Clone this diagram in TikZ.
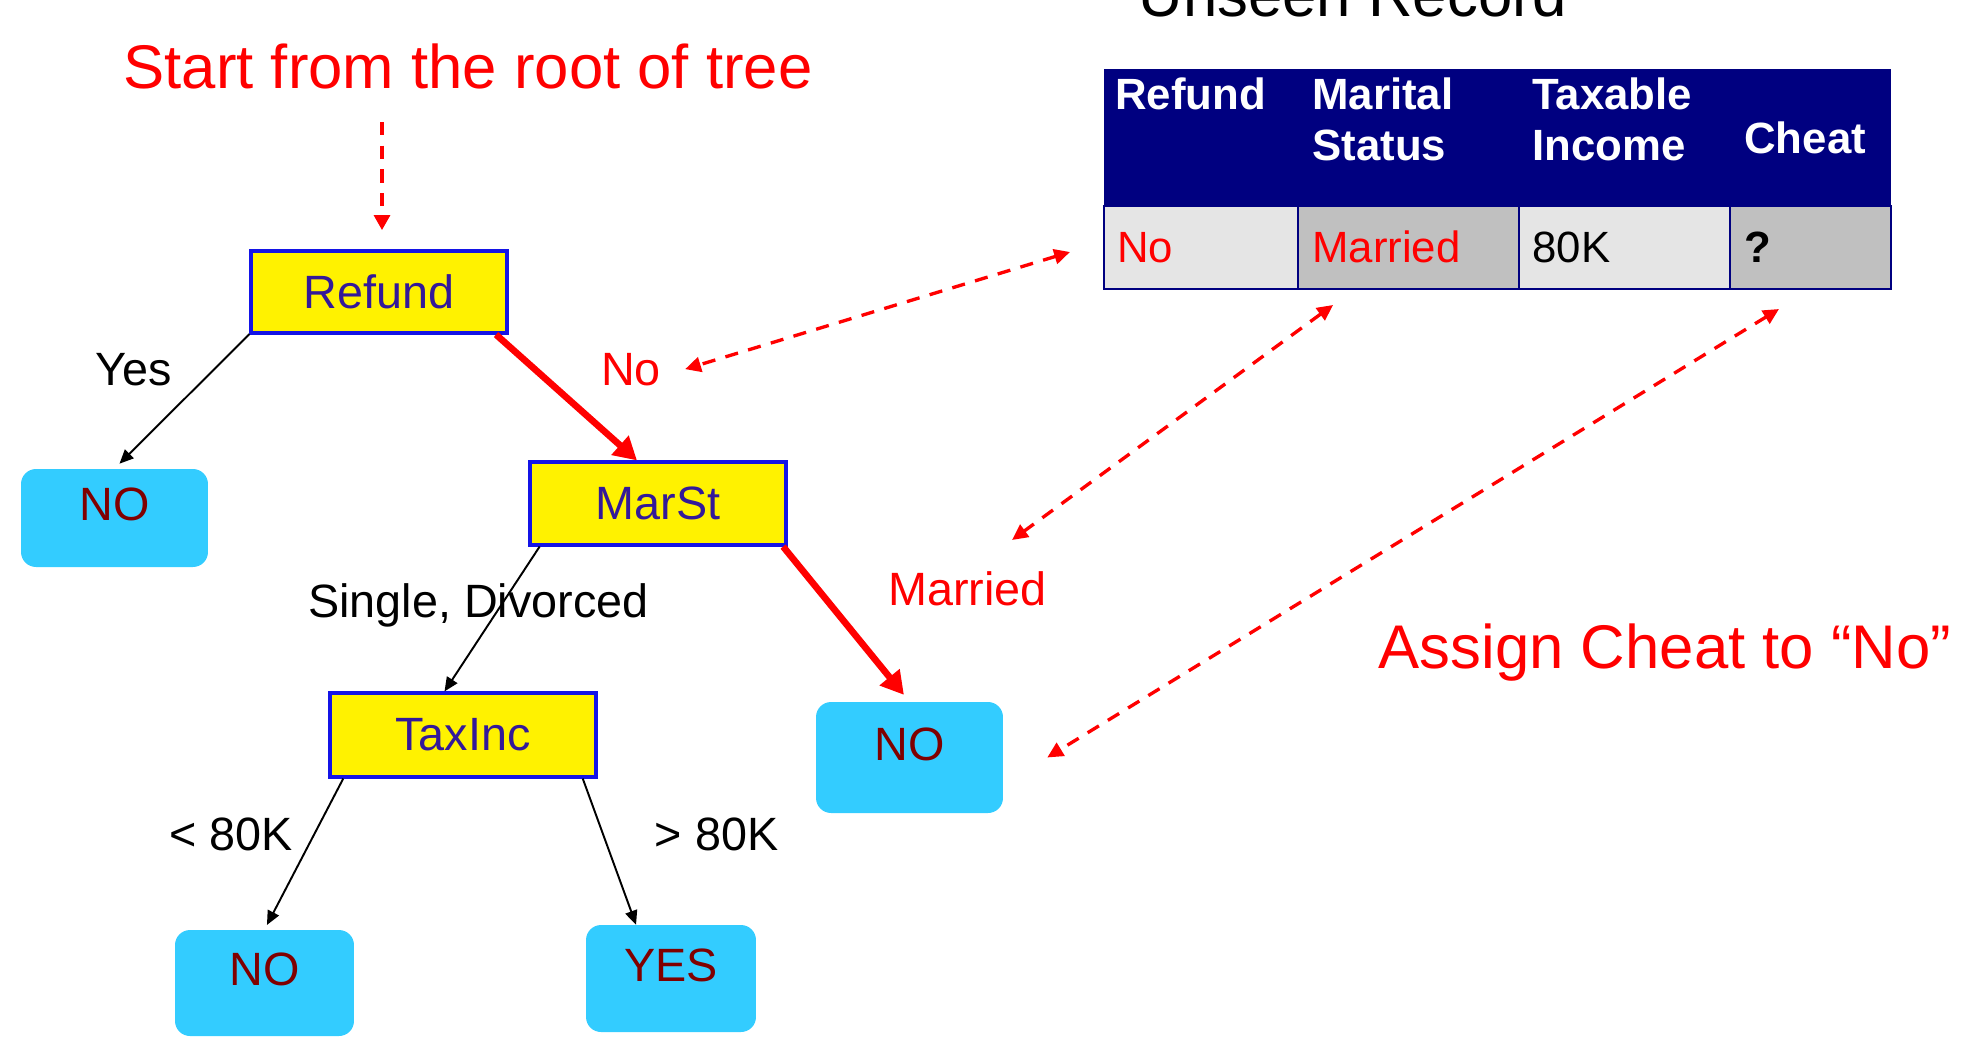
\documentclass[tikz,border=0pt]{standalone}
\usepackage{fontspec}
\setmainfont{Liberation Sans}
\usetikzlibrary{arrows.meta,calc}

\definecolor{navy}{RGB}{0,0,128}
\definecolor{boxblue}{RGB}{20,20,230}
\definecolor{testtxt}{RGB}{51,25,153}
\definecolor{leafcyan}{RGB}{51,204,255}
\definecolor{leaftxt}{RGB}{128,0,0}
\definecolor{lightcell}{RGB}{229,229,229}
\definecolor{darkcell}{RGB}{192,192,192}

\newcommand\bigfont{\fontsize{35.1}{42}\selectfont}
\newcommand\nodefont{\fontsize{26.6}{32}\selectfont}
\newcommand\tabfont{\fontsize{24.9}{29}\selectfont}

\tikzset{
  decbox/.style={draw=boxblue, line width=1.8pt, fill=yellow, text=testtxt,
    font=\nodefont, minimum width=5.12cm, minimum height=1.64cm},
  leafbox/.style={fill=leafcyan, rounded corners=0.3cm, text=leaftxt,
    font=\nodefont, text height=19pt, text depth=16pt},
  lbl/.style={font=\nodefont, inner sep=0pt, anchor=base},
  tab/.style={font=\tabfont, inner sep=0pt, anchor=base west},
  branch/.style={line width=1.1pt, -{Triangle[length=8pt,width=7pt]}},
  taken/.style={red, line width=3.8pt, -{Triangle[length=13pt,width=14pt]}},
  dashes/.style={red, line width=1.9pt, dash pattern=on 7.5pt off 6pt},
  ptr/.style={dashes, {Triangle[length=9pt,width=8.5pt]}-{Triangle[length=9pt,width=8.5pt]}},
}

\begin{document}
\begin{tikzpicture}[x=0.02cm,y=-0.02cm]
    \useasboundingbox (0,0) rectangle (1977,1045);
    % headings
    \node[lbl,font=\bigfont,text=red] (start) at (468,88) {Start from the root of tree};
    \node[lbl,font=\bigfont] (unseen) at (1353,16) {Unseen Record};
    \node[lbl,font=\bigfont,text=red] (assign) at (1665,668) {Assign Cheat to ``No''};
    % the tree
    \node[decbox] (refund) at (379,292) {Refund};
    \node[decbox,minimum height=1.66cm] (marst) at (658,503.5) {MarSt};
    \node[decbox,minimum width=5.32cm,minimum height=1.68cm] (taxinc) at (463,735) {TaxInc};
    \node[leafbox,minimum width=3.74cm,minimum height=1.96cm] (noA) at (114.5,518) {NO};
    \node[leafbox,minimum width=3.74cm,minimum height=2.22cm] (noB) at (909.5,757.5) {NO};
    \node[leafbox,minimum width=3.58cm,minimum height=2.12cm] (noC) at (264.5,983) {NO};
    \node[leafbox,minimum width=3.40cm,minimum height=2.14cm] (yes) at (671,978.5) {YES};
    % branches
    \draw[branch,shorten >=4pt] (refund.-162) -- (noA.north);
    \draw[taken] (refund.-20) -- (marst.116);
    \draw[branch] (marst.-160) -- (taxinc.113);
    \draw[taken,shorten >=5pt] (marst.-19) -- (noB.north);
    \draw[branch,shorten >=3pt] (taxinc.-160) -- (noC.north);
    \draw[branch] (taxinc.-20) -- (yes.123);
    % branch labels
    \node[lbl] (lblYes) at (133.5,385) {Yes};
    \node[lbl,text=red] (lblNo) at (631,385) {No};
    \node[lbl] (lblSingle) at (478.5,617) {Single, Divorced};
    \node[lbl,text=red] (lblMar) at (967.5,605) {Married};
    \node[lbl] (lblLess) at (231,850) {< 80K};
    \node[lbl] (lblMore) at (716.5,850) {> 80K};
    % unseen record
    \fill[navy] (1104,69) rectangle (1891,206);
    \filldraw[fill=lightcell,draw=navy,line width=1.2pt] (1104,206) rectangle (1298,289);
    \filldraw[fill=darkcell,draw=navy,line width=1.2pt] (1298,206) rectangle (1519,289);
    \filldraw[fill=lightcell,draw=navy,line width=1.2pt] (1519,206) rectangle (1730,289);
    \filldraw[fill=darkcell,draw=navy,line width=1.2pt] (1730,206) rectangle (1891,289);
    \node[tab,text=white,font=\tabfont\bfseries] (hRef) at (1115,109) {Refund};
    \node[tab,text=white,font=\tabfont\bfseries] (hMar) at (1312,109) {Marital};
    \node[tab,text=white,font=\tabfont\bfseries] (hSta) at (1312,160) {Status};
    \node[tab,text=white,font=\tabfont\bfseries] (hTax) at (1532,109) {Taxable};
    \node[tab,text=white,font=\tabfont\bfseries] (hInc) at (1532,160) {Income};
    \node[tab,text=white,font=\tabfont\bfseries] (hChe) at (1744,153) {Cheat};
    \node[tab,text=red] (tNo) at (1117,262) {No};
    \node[tab,text=red] (tMar) at (1312,262) {Married};
    \node[tab] (tInc) at (1532,262) {80K};
    \node[tab,font=\tabfont\bfseries] (tChe) at (1744,262) {?};
    % pointers
    \coordinate (s0) at (382,122);
    \coordinate (pNo) at (1070,252);
    \coordinate (pMar) at (1333,305);
    \coordinate (pChe) at (1779,309);
    \coordinate (pMarLbl) at (1012,540);
    \draw[dashes,-{Triangle[length=8.5pt,width=9pt]},shorten >=11pt]
      (s0) -- (s0 |- refund.north);
    \draw[ptr] (pNo) -- ([xshift=13.6pt]lblNo.east);
    \draw[ptr] (pMar) -- (pMarLbl);
    \draw[ptr] (pChe) -- ([xshift=25pt]noB.east);
\end{tikzpicture}
\end{document}
